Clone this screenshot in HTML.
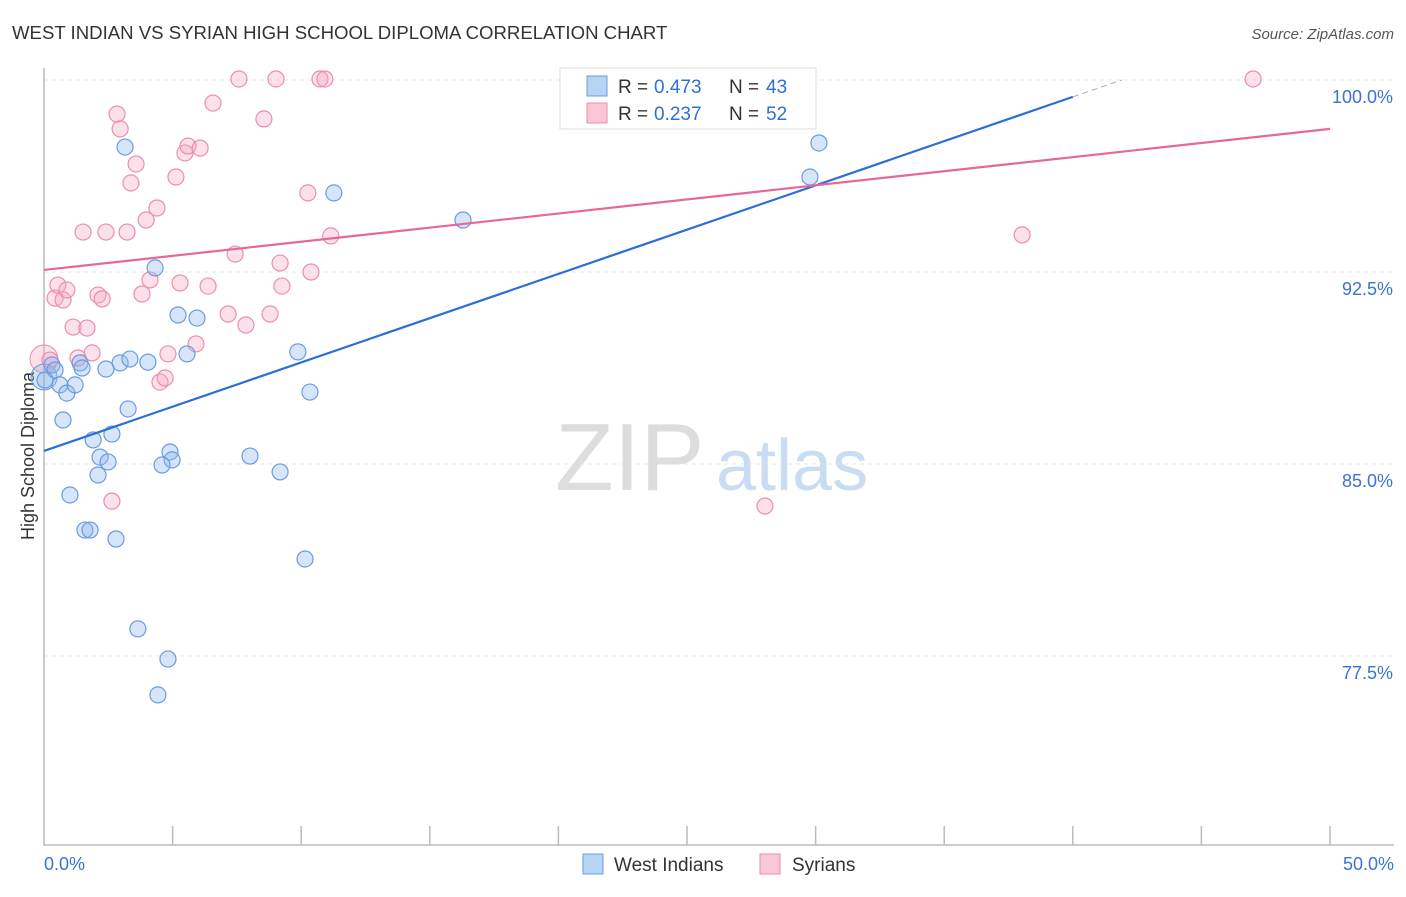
<!DOCTYPE html>
<html><head><meta charset="utf-8"><style>
body{margin:0;background:#fff;font-family:"Liberation Sans",sans-serif;}
svg text{font-family:"Liberation Sans",sans-serif;}
</style></head><body>
<svg id="chart" width="1406" height="892" xmlns="http://www.w3.org/2000/svg">
<text x="12" y="39" font-size="18.6" fill="#333">WEST INDIAN VS SYRIAN HIGH SCHOOL DIPLOMA CORRELATION CHART</text>
<text x="1394" y="39" font-size="15" fill="#555" font-style="italic" text-anchor="end">Source: ZipAtlas.com</text>
<text x="34" y="456" font-size="18" fill="#333" text-anchor="middle" transform="rotate(-90 34 456)">High School Diploma</text>
<g>
<text x="555" y="490" font-size="96" fill="#ddd" font-family="Liberation Serif">ZIP</text>
<text x="716" y="490" font-size="72" fill="#c8dcf2">atlas</text>
</g>
<g id="grid"></g>
<g id="axes"></g>
<g id="pts"></g>
<g id="lines"></g>
<g>
<rect x="560" y="68" width="256" height="61" fill="#fff" stroke="#ddd"/>
<rect x="587" y="76" width="20" height="20" fill="#b8d4f4" stroke="#6a9be0"/>
<rect x="587" y="103" width="20" height="20" fill="#f9c6d5" stroke="#ec8eab"/>
<text y="93" font-size="19" fill="#333"><tspan x="618">R =</tspan><tspan x="654" fill="#2e6fd6">0.473</tspan><tspan x="729">N =</tspan><tspan x="766" fill="#2e6fd6">43</tspan></text>
<text y="120" font-size="19" fill="#333"><tspan x="618">R =</tspan><tspan x="654" fill="#2e6fd6">0.237</tspan><tspan x="729">N =</tspan><tspan x="766" fill="#2e6fd6">52</tspan></text>
</g>
<g>
<rect x="583" y="854" width="20" height="20" fill="#b8d4f4" stroke="#6a9be0"/>
<text x="614" y="871" font-size="19" fill="#333">West Indians</text>
<rect x="760" y="854" width="20" height="20" fill="#f9c6d5" stroke="#ec8eab"/>
<text x="792" y="871" font-size="19" fill="#333">Syrians</text>
</g>
</svg>
<script>
const yTicks=[77.5,85.0,92.5,100.0];
const xTickLabels=["0.0%","50.0%"];
const blueX=[0.31,0.43,0.62,0.89,1.21,0.74,1.01,1.40,1.48,1.91,2.18,2.10,2.49,2.64,1.59,1.79,2.80,2.41,2.96,3.34,3.15,3.27,4.04,4.32,5.21,5.95,5.56,4.90,4.98,4.59,3.65,4.82,4.43,8.01,9.18,9.87,10.34,10.15,11.27,16.29,29.78,30.13,0.04];
const blueY=[88.87,88.67,88.09,87.77,88.09,86.72,83.79,88.95,88.75,85.94,85.27,84.57,85.08,86.17,82.42,82.42,82.07,88.71,88.95,89.10,97.38,87.15,88.98,92.66,90.82,90.70,89.30,85.47,85.16,84.96,78.56,77.38,75.98,85.31,84.69,89.38,87.81,81.29,95.59,94.53,96.21,97.54,88.28];
const pinkX=[0.23,0.43,0.54,0.74,0.89,1.13,1.32,1.67,1.87,1.52,2.10,2.26,2.41,2.64,2.84,2.96,3.23,3.38,3.58,3.81,3.97,4.12,4.39,4.51,4.71,4.82,5.13,5.29,5.48,5.60,6.07,5.91,6.38,6.57,7.16,7.43,7.58,7.85,8.55,8.79,9.02,9.18,9.25,10.26,10.38,10.73,10.92,11.15,28.03,27.84,38.03,47.01];
const pinkY=[89.06,91.48,91.99,91.41,91.80,90.35,89.14,90.31,89.34,94.06,91.60,91.45,94.06,83.55,98.67,98.09,94.06,95.98,96.72,91.64,94.53,92.19,95.00,88.20,88.36,89.30,96.21,92.07,97.15,97.42,97.34,89.69,91.95,99.10,90.86,93.20,100.04,90.43,98.48,90.86,100.04,92.85,91.95,95.59,92.50,100.04,100.04,93.91,83.36,100.00,93.95,100.04];
const largeX=[0,0];const largeY=[89.1,88.4];
const trendBlue=[85.51,99.34,40];
const trendPink=[92.58,98.09];
const NS="http://www.w3.org/2000/svg";
const X0=44,X1=1330,YT=80,YB=845,xMax=50;
const sx=v=>X0+v/xMax*(X1-X0);
const sy=v=>YT+(100-v)/7.5*192;
function mk(tag,attrs,parent){const e=document.createElementNS(NS,tag);for(const k in attrs)e.setAttribute(k,attrs[k]);parent.appendChild(e);return e;}
const grid=document.getElementById('grid'),axes=document.getElementById('axes'),pts=document.getElementById('pts'),lines=document.getElementById('lines');
yTicks.forEach(t=>{const l=mk('line',{x1:X0,x2:1394,y1:sy(t),y2:sy(t),stroke:'#e4e4e4','stroke-dasharray':'4 4'},grid);


const tx=mk('text',{x:1393,y:sy(t)+23,'font-size':18,fill:'#3a73d0','text-anchor':'end'},axes);tx.textContent=t.toFixed(1)+'%';

});
const ax=mk('path',{d:`M${X0} 68 V${YB} H1394`,stroke:'#bbb',fill:'none','stroke-width':1.5},axes);


for(let i=1;i<=10;i++){const tk=mk('line',{x1:sx(i*5),x2:sx(i*5),y1:826,y2:YB,stroke:'#bbb','stroke-width':1.5},axes);

}
const xl0=mk('text',{x:44,y:870,'font-size':18,fill:'#3a73d0'},axes);xl0.textContent=xTickLabels[0];


const xl1=mk('text',{x:1394,y:870,'font-size':18,fill:'#3a73d0','text-anchor':'end'},axes);xl1.textContent=xTickLabels[1];


const lp=mk('circle',{cx:sx(largeX[0]),cy:sy(largeY[0]),r:14,fill:'rgba(246,170,195,0.35)',stroke:'#ec8eab'},pts);


const lb=mk('circle',{cx:sx(largeX[1]),cy:sy(largeY[1]),r:13,fill:'rgba(140,180,235,0.35)',stroke:'#6a9be0'},pts);


pinkX.forEach((x,i)=>{const c=mk('circle',{cx:sx(x),cy:sy(pinkY[i]),r:8,fill:'rgba(246,170,195,0.35)',stroke:'#ec8eab','stroke-width':1.2},pts);

});
blueX.forEach((x,i)=>{const c=mk('circle',{cx:sx(x),cy:sy(blueY[i]),r:8,fill:'rgba(140,180,235,0.35)',stroke:'#6a9be0','stroke-width':1.2},pts);

});
const slope=(trendBlue[1]-trendBlue[0])/trendBlue[2];
const bl=mk('line',{x1:sx(0),y1:sy(trendBlue[0]),x2:sx(trendBlue[2]),y2:sy(trendBlue[1]),stroke:'#2a6fd6','stroke-width':2.2},lines);


const xe=(100-trendBlue[0])/slope;
const bd=mk('line',{x1:sx(trendBlue[2]),y1:sy(trendBlue[1]),x2:sx(xe),y2:sy(100),stroke:'#aac',"stroke-width":1,'stroke-dasharray':'6 4'},lines);


const pl=mk('line',{x1:sx(0),y1:sy(trendPink[0]),x2:sx(50),y2:sy(trendPink[1]),stroke:'#e8679a','stroke-width':2.2},lines);


</script>
</body></html>
